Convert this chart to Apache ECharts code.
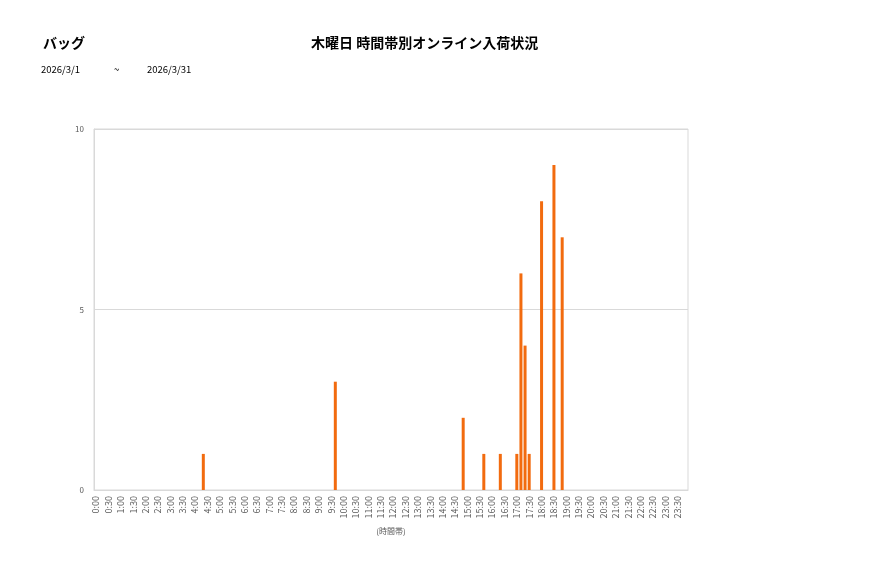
<!DOCTYPE html>
<html>
<head>
<meta charset="utf-8">
<script src="https://cdn.jsdelivr.net/npm/echarts@6/dist/echarts.min.js"></script>
<style>
html,body{margin:0;padding:0;background:#fff;}
#chart{width:877px;height:578px;}
</style>
</head>
<body>
<div id="chart"></div>
<script>
// Data
const categoryLabel = 'バッグ';
const chartTitle = '木曜日 時間帯別オンライン入荷状況';
const dateFrom = '2026/3/1';
const dateTo = '2026/3/31';
const xAxisName = '(時間帯)';
const yTicks = [0, 5, 10];
// 10-minute slots of the day
const hours = [0,1,2,3,4,5,6,7,8,9,10,11,12,13,14,15,16,17,18,19,20,21,22,23];
const minutes = ['00','10','20','30','40','50'];
const slots = [];
hours.forEach(h => minutes.forEach(m => slots.push(h + ':' + m)));
// non-zero arrivals (slot -> count)
const arrivalTimes  = ['4:20','9:40','14:50','15:40','16:20','17:00','17:10','17:20','17:30','18:00','18:30','18:50'];
const arrivalCounts = [1, 3, 2, 1, 1, 1, 6, 4, 1, 8, 9, 7];

const values = slots.map(s => {
  const i = arrivalTimes.indexOf(s);
  return i >= 0 ? arrivalCounts[i] : 0;
});

const chart = echarts.init(document.getElementById('chart'), null, {renderer: 'canvas'});
const font = "'Noto Sans CJK JP', 'Noto Sans', sans-serif";
chart.setOption({
  animation: false,
  backgroundColor: '#ffffff',
  textStyle: {fontFamily: font},
  title: [
    {text: categoryLabel, left: 38, top: 31, textStyle: {fontSize: 14, fontWeight: 'bold', color: '#000', fontFamily: font}},
    {text: chartTitle, left: 306, top: 31, textStyle: {fontSize: 14, fontWeight: 'bold', color: '#000', fontFamily: font}},
    {text: dateFrom, left: 36, top: 60, textStyle: {fontSize: 9.5, fontWeight: 'normal', color: '#000', fontFamily: font}},
    {text: '~', left: 109, top: 60, textStyle: {fontSize: 9.5, fontWeight: 'normal', color: '#000', fontFamily: font}},
    {text: dateTo, left: 142, top: 60, textStyle: {fontSize: 9.5, fontWeight: 'normal', color: '#000', fontFamily: font}}
  ],
  grid: {left: 94, right: 189, top: 129, bottom: 88, show: true, borderColor: '#d9d9d9', borderWidth: 1, containLabel: false},
  xAxis: {
    type: 'category',
    data: slots,
    name: xAxisName,
    nameLocation: 'middle',
    nameGap: 37,
    nameTextStyle: {fontSize: 8, color: '#595959'},
    axisLine: {show: true, lineStyle: {color: '#d9d9d9'}},
    axisTick: {show: false},
    axisLabel: {interval: 2, rotate: 90, fontSize: 9, color: '#595959', margin: 6},
    splitLine: {show: false}
  },
  yAxis: {
    type: 'value',
    min: yTicks[0],
    max: yTicks[yTicks.length - 1],
    interval: yTicks[1] - yTicks[0],
    axisLine: {show: true, lineStyle: {color: '#d9d9d9'}},
    axisTick: {show: false},
    axisLabel: {fontSize: 8, color: '#595959', margin: 10},
    splitLine: {show: true, lineStyle: {color: '#d9d9d9'}}
  },
  series: [{
    type: 'bar',
    data: values,
    barWidth: 3,
    itemStyle: {color: '#F26B0F'}
  }]
});
</script>
</body>
</html>
